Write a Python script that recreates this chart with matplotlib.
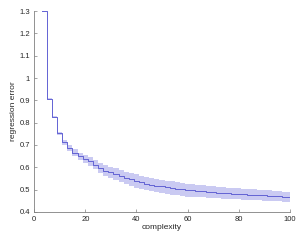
import numpy as np
import matplotlib
matplotlib.use("Agg")
import matplotlib.pyplot as plt

plt.rcParams['font.family'] = ['Liberation Sans', 'DejaVu Sans']

# complexity (start of each step) and mean regression error
complexity = list(range(3, 101, 2))
err_mean = [1.300, 0.905, 0.826, 0.752, 0.712, 0.686, 0.666, 0.650, 0.638, 0.626,
            0.611, 0.598, 0.585, 0.577, 0.569, 0.561, 0.553, 0.546, 0.538, 0.532,
            0.527, 0.522, 0.518, 0.514, 0.510, 0.507, 0.504, 0.501, 0.498, 0.496,
            0.494, 0.492, 0.490, 0.488, 0.487, 0.485, 0.484, 0.482, 0.481, 0.479,
            0.478, 0.477, 0.475, 0.474, 0.473, 0.471, 0.470, 0.468, 0.467]
# half width of the shaded band
err_band = [0.003, 0.005, 0.005, 0.008, 0.010, 0.013, 0.015, 0.016, 0.018, 0.020,
            0.020, 0.022, 0.024, 0.025, 0.027, 0.027, 0.028, 0.029, 0.030, 0.030,
            0.030, 0.030, 0.030, 0.030, 0.030, 0.030, 0.030, 0.029, 0.029, 0.028,
            0.028, 0.027, 0.027, 0.026, 0.026, 0.026, 0.025, 0.025, 0.025, 0.024,
            0.024, 0.024, 0.023, 0.023, 0.023, 0.022, 0.022, 0.022, 0.022]

x = np.array(complexity + [100])
m = np.array(err_mean + [err_mean[-1]])
b = np.array(err_band + [err_band[-1]])

fig = plt.figure(figsize=(2.99, 2.40), dpi=100)
ax = fig.add_axes([0.114, 0.117, 0.856, 0.837])

ax.fill_between(x, m - b, m + b, step='post', color='#cacaf2', lw=0)
ax.step(x, m, where='post', color='#6262d4', lw=0.7)

ax.set_xlim(0, 100)
ax.set_ylim(0.4, 1.3)
ax.set_xticks([0, 20, 40, 60, 80, 100])
ax.set_yticks([0.4, 0.5, 0.6, 0.7, 0.8, 0.9, 1.0, 1.1, 1.2, 1.3])
ax.set_yticklabels(['0.4', '0.5', '0.6', '0.7', '0.8', '0.9', '1', '1.1', '1.2', '1.3'])

for s in ['top', 'right']:
    ax.spines[s].set_visible(False)
for s in ['left', 'bottom']:
    ax.spines[s].set_color('#808080')
    ax.spines[s].set_linewidth(0.6)
ax.tick_params(direction='in', length=2, width=0.5, color='#808080',
               labelsize=5.5, labelcolor='#262626', pad=3)

ax.set_xlabel('complexity', fontsize=6, color='#262626', labelpad=1)
ax.set_ylabel('regression error', fontsize=6, color='#262626', labelpad=2)

fig.savefig('out.png', dpi=100)
